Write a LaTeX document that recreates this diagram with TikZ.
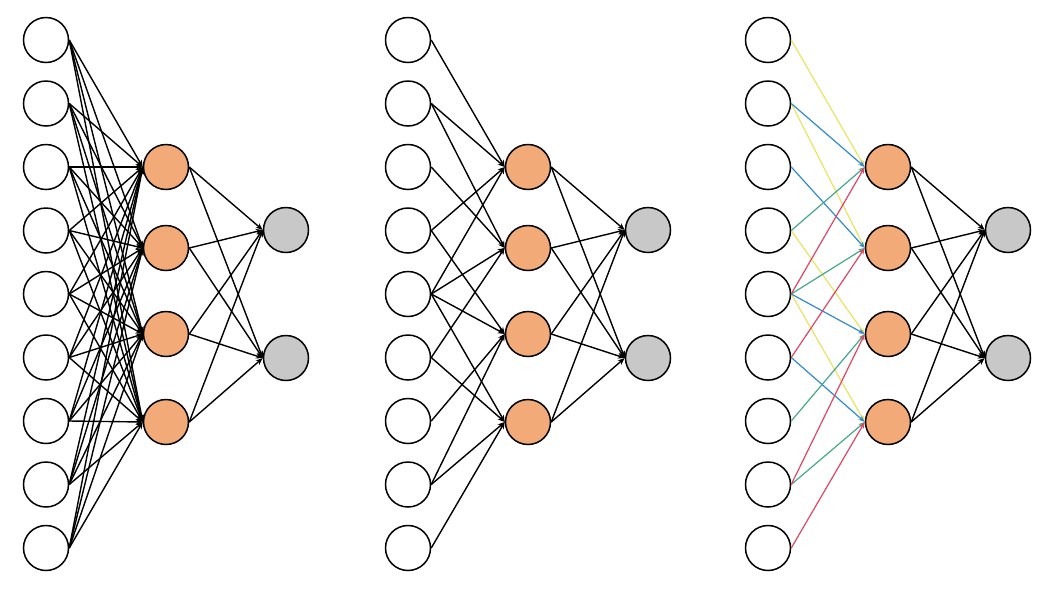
\documentclass[tikz,border=0pt]{standalone}
\usetikzlibrary{arrows.meta}
\definecolor{hidfill}{RGB}{241,170,120}
\definecolor{outfill}{RGB}{200,200,200}
\definecolor{cY}{RGB}{234,228,100}
\definecolor{cB}{RGB}{50,140,205}
\definecolor{cG}{RGB}{70,170,140}
\definecolor{cR}{RGB}{222,72,102}
\begin{document}
\begin{tikzpicture}[x=1pt,y=-1pt,
  neuron/.style={circle,draw=black,line width=1.5pt,minimum size=45pt,inner sep=0pt},
  innode/.style={neuron,fill=white},
  hidnode/.style={neuron,fill=hidfill},
  outnode/.style={neuron,fill=outfill},
  link/.style={line width=1.4pt,-{Stealth[length=7pt,width=5.5pt]}},
  clink/.style={line width=1.2pt,-{Stealth[length=6.5pt,width=5pt]}}]
\useasboundingbox (0,0) rectangle (1050,590);
\fill[white] (0,0) rectangle (1050,590);
\foreach \p/\xo in {L/46,M/408,R/768} {
  \foreach \i in {1,...,9} \node[innode] (\p i\i) at (\xo,{40+63.5*(\i-1)}) {};
  \foreach \j/\yy in {1/167,2/248,3/334,4/422} \node[hidnode] (\p h\j) at (\xo+120,\yy) {};
  \foreach \k/\yy in {1/230,2/358} \node[outnode] (\p o\k) at (\xo+240,\yy) {};
}
% left panel: fully connected
\foreach \i in {1,...,9} \foreach \j in {1,...,4} \draw[link] (Li\i.east) -- (Lh\j.west);
% middle panel: sparse
\foreach \i/\j in {1/1,2/1,4/1,5/1,2/2,3/2,5/2,6/2,4/3,5/3,7/3,8/3,5/4,6/4,8/4,9/4}
  \draw[link] (Mi\i.east) -- (Mh\j.west);
% right panel: shared weights
\foreach \i/\j/\c in {1/1/cY,2/2/cY,4/3/cY,5/4/cY,
                      2/1/cB,3/2/cB,5/3/cB,6/4/cB,
                      4/1/cG,5/2/cG,7/3/cG,8/4/cG,
                      5/1/cR,6/2/cR,8/3/cR,9/4/cR}
  \draw[clink,draw=\c,fill=\c] (Ri\i.east) -- (Rh\j.west);
% hidden to output
\foreach \p in {L,M,R} \foreach \j in {1,...,4} \foreach \k in {1,2}
  \draw[link] (\p h\j.east) -- (\p o\k.west);
\end{tikzpicture}
\end{document}
